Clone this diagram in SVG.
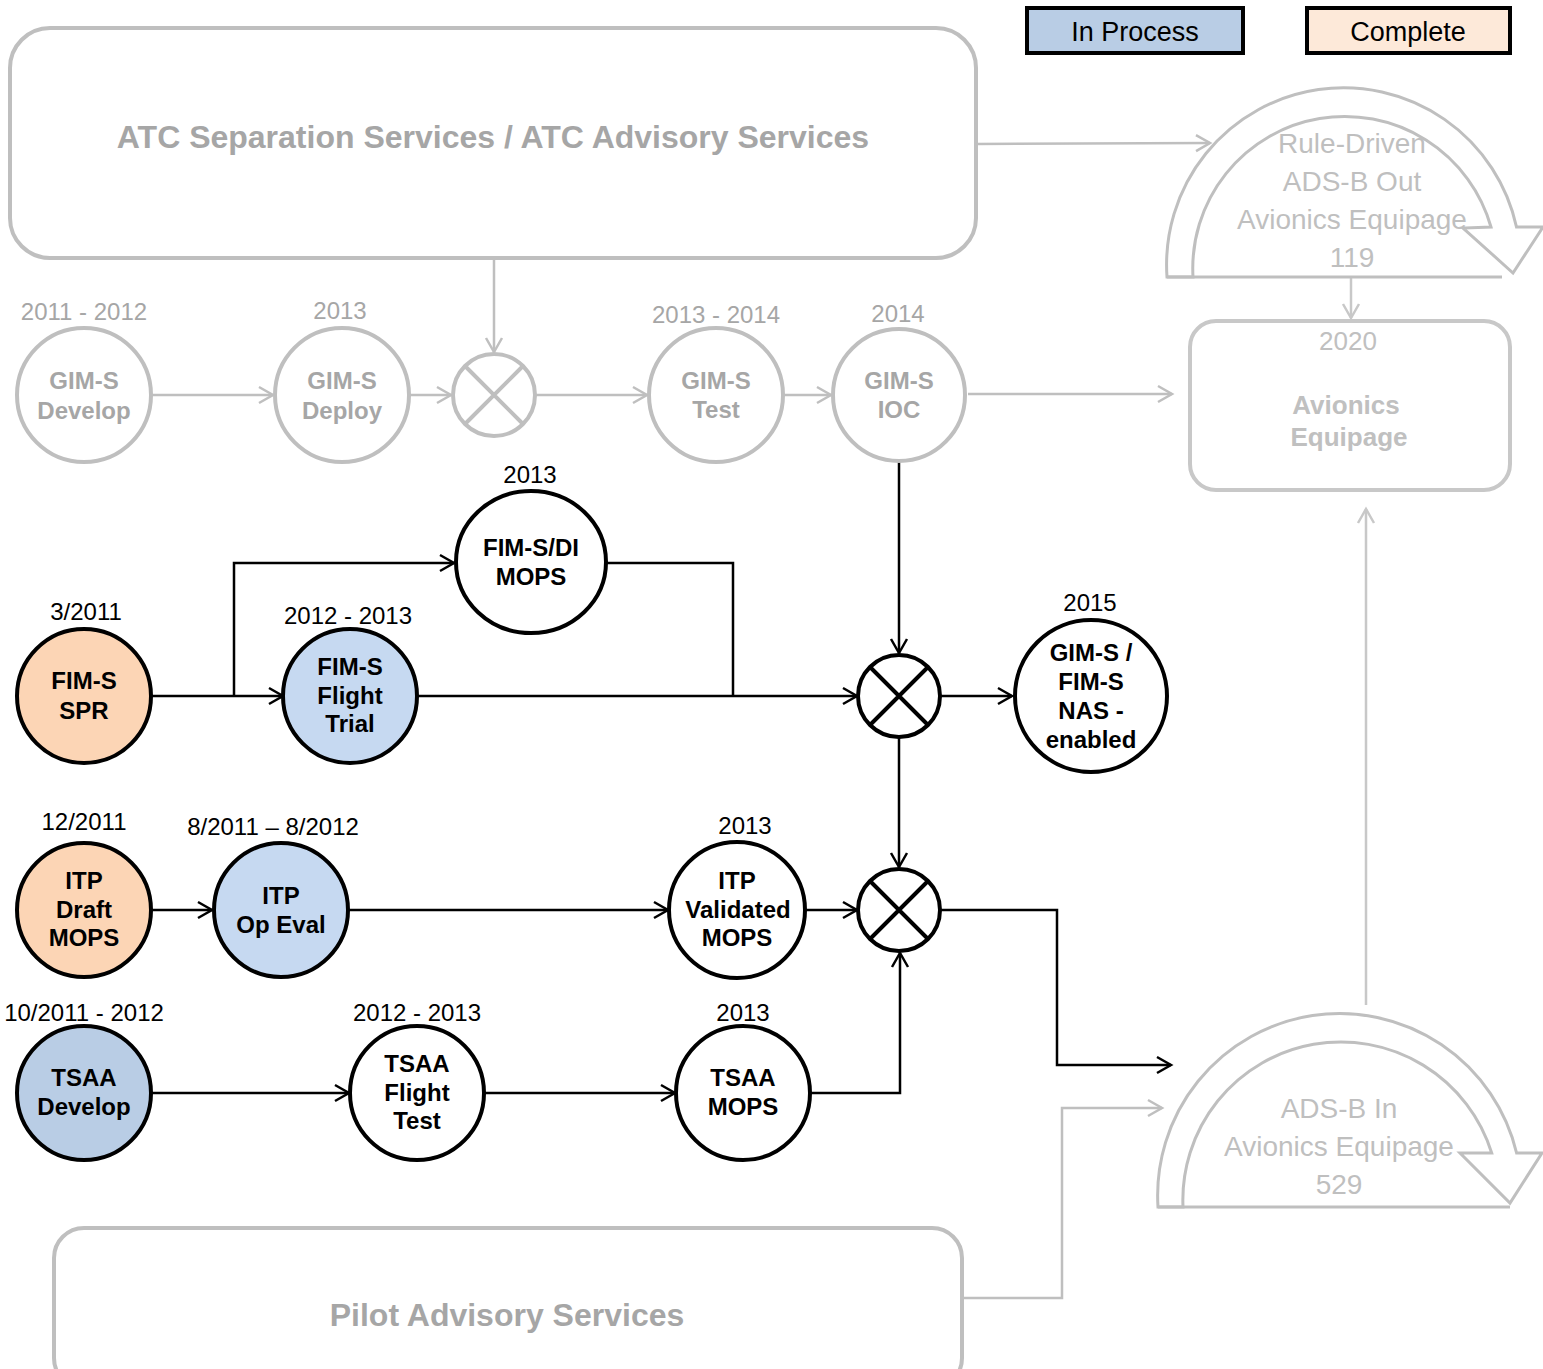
<svg xmlns="http://www.w3.org/2000/svg" width="1543" height="1369" viewBox="0 0 1543 1369">
<defs>
<style>
.gbox{fill:#fff;stroke:#bfbfbf;stroke-width:4}
.gnode{fill:#fff;stroke:#bfbfbf;stroke-width:4}
.bnode{stroke:#000;stroke-width:4}
.white{fill:#fff}
.peach{fill:#fcd5b5}
.blue{fill:#c6d9f1}
.blue2{fill:#b9cde5}
.xline{stroke-width:4;fill:none}
.gc{fill:none;stroke:#bfbfbf;stroke-width:2.5}
.gc2{fill:none;stroke:#c8c8c8;stroke-width:2.5}
.bc{fill:none;stroke:#000;stroke-width:2.5}
.t{font-family:"Liberation Sans",Arial,sans-serif;text-anchor:middle}
.nb{font-size:24px;font-weight:bold;fill:#000}
.nd{font-size:24px;fill:#000}
.gb{font-size:24px;font-weight:bold;fill:#a6a6a6}
.gd{font-size:24px;fill:#a6a6a6}
.big{font-size:32px;font-weight:bold;fill:#a6a6a6}
.arc{fill:#fff;stroke:#bfbfbf;stroke-width:3;stroke-linejoin:miter}
.at{font-size:28px;fill:#bfbfbf}
.eq{font-size:26px;font-weight:bold;fill:#c0c0c0}
.eqd{font-size:26px;fill:#c0c0c0}
.leg{font-size:27px;fill:#000}
</style>
<marker id="ab" markerUnits="userSpaceOnUse" markerWidth="18" markerHeight="20" refX="15" refY="10" orient="auto">
<path d="M1,2 L15,10 L1,18" fill="none" stroke="#000" stroke-width="2.5"/>
</marker>
<marker id="ag" markerUnits="userSpaceOnUse" markerWidth="18" markerHeight="20" refX="15" refY="10" orient="auto">
<path d="M1,2 L15,10 L1,18" fill="none" stroke="#bfbfbf" stroke-width="2.5"/>
</marker>
<marker id="ag2" markerUnits="userSpaceOnUse" markerWidth="18" markerHeight="20" refX="15" refY="10" orient="auto">
<path d="M1,2 L15,10 L1,18" fill="none" stroke="#c8c8c8" stroke-width="2.5"/>
</marker>
</defs>

<rect width="1543" height="1369" fill="#fff"/>

<!-- Legend -->
<g id="legend-in-process">
<rect x="1027" y="8" width="216" height="45" fill="#b9cde5" stroke="#000" stroke-width="4"/>
<text class="t leg" x="1135" y="41">In Process</text>
</g>
<g id="legend-complete">
<rect x="1307" y="8" width="203" height="45" fill="#fde9d9" stroke="#000" stroke-width="4"/>
<text class="t leg" x="1408" y="41">Complete</text>
</g>

<!-- Connectors -->
<g id="connectors">
<!-- gray -->
<path class="gc" d="M976,144 L1210,143" marker-end="url(#ag)"/>
<path class="gc" d="M494,258 L494,352" marker-end="url(#ag)"/>
<path class="gc" d="M152,395 L273,395" marker-end="url(#ag)"/>
<path class="gc" d="M410,395 L451,395" marker-end="url(#ag)"/>
<path class="gc" d="M536,395 L647,395" marker-end="url(#ag)"/>
<path class="gc" d="M784,395 L831,395" marker-end="url(#ag)"/>
<path class="gc" d="M968,394 L1172,394" marker-end="url(#ag)"/>
<path class="gc2" d="M1351,277 L1351,318" marker-end="url(#ag2)"/>
<path class="gc2" d="M1366,1005 L1366,509" marker-end="url(#ag2)"/>
<path class="gc" d="M962,1298 L1062,1298 L1062,1108 L1162,1108" marker-end="url(#ag)"/>
<!-- black -->
<path class="bc" d="M152,696 L283,696" marker-end="url(#ab)"/>
<path class="bc" d="M234,696 L234,563 L454,563" marker-end="url(#ab)"/>
<path class="bc" d="M606,563 L733,563 L733,696"/>
<path class="bc" d="M418,696 L857,696" marker-end="url(#ab)"/>
<path class="bc" d="M899,462 L899,653" marker-end="url(#ab)"/>
<path class="bc" d="M941,696 L1012,696" marker-end="url(#ab)"/>
<path class="bc" d="M899,738 L899,867" marker-end="url(#ab)"/>
<path class="bc" d="M152,910 L212,910" marker-end="url(#ab)"/>
<path class="bc" d="M349,910 L668,910" marker-end="url(#ab)"/>
<path class="bc" d="M806,910 L857,910" marker-end="url(#ab)"/>
<path class="bc" d="M152,1093 L349,1093" marker-end="url(#ab)"/>
<path class="bc" d="M485,1093 L675,1093" marker-end="url(#ab)"/>
<path class="bc" d="M811,1093 L900,1093 L900,953" marker-end="url(#ab)"/>
<path class="bc" d="M941,910 L1057,910 L1057,1065 L1171,1065" marker-end="url(#ab)"/>
</g>

<!-- Top box -->
<g id="atc-services">
<rect class="gbox" x="10" y="28" width="966" height="230" rx="40"/>
<text class="t big" x="493" y="148">ATC Separation Services / ATC Advisory Services</text>
</g>

<!-- Pilot box -->
<g id="pilot-advisory">
<rect class="gbox" x="54" y="1228" width="908" height="160" rx="30"/>
<text class="t big" x="507" y="1326">Pilot Advisory Services</text>
</g>

<!-- Curved arrow: Rule-Driven -->
<g id="rule-driven">
<path class="arc" d="M1167,277 A177,177 0 0 1 1516.5,227 L1543,227 L1513,273 L1463,228 L1491,227 A152,152 0 0 0 1193,277 Z"/>
<line x1="1167" y1="277" x2="1502" y2="277" stroke="#bfbfbf" stroke-width="3"/>
<text class="t at" x="1352" y="153">Rule-Driven</text>
<text class="t at" x="1352" y="191">ADS-B Out</text>
<text class="t at" x="1352" y="229">Avionics  Equipage</text>
<text class="t at" x="1352" y="267">119</text>
</g>

<!-- 2020 box -->
<g id="avionics-2020">
<rect x="1190" y="321" width="320" height="169" rx="26" fill="#fff" stroke="#c8c8c8" stroke-width="4"/>
<text class="t eqd" x="1348" y="350">2020</text>
<text class="t eq" x="1346" y="414">Avionics</text>
<text class="t eq" x="1349" y="446">Equipage</text>
</g>

<!-- Curved arrow: ADS-B In -->
<g id="adsb-in">
<path class="arc" d="M1158,1207 A182,182 0 0 1 1516.6,1153 L1542,1153 L1510,1203 L1460,1153 L1491.7,1153 A158,158 0 0 0 1183,1207 Z"/>
<line x1="1158" y1="1207" x2="1510" y2="1207" stroke="#bfbfbf" stroke-width="3"/>
<text class="t at" x="1339" y="1118">ADS-B In</text>
<text class="t at" x="1339" y="1156">Avionics  Equipage</text>
<text class="t at" x="1339" y="1194">529</text>
</g>

<!-- Gray GIM-S row -->
<g id="gims-develop">
<text class="t gd" x="84" y="320">2011 - 2012</text>
<circle class="gnode" cx="84" cy="395" r="67"/>
<text class="t gb" x="84" y="389">GIM-S</text>
<text class="t gb" x="84" y="419">Develop</text>
</g>
<g id="gims-deploy">
<text class="t gd" x="340" y="319">2013</text>
<circle class="gnode" cx="342" cy="395" r="67"/>
<text class="t gb" x="342" y="389">GIM-S</text>
<text class="t gb" x="342" y="419">Deploy</text>
</g>
<g id="gims-junction">
<circle class="gnode" cx="494" cy="395" r="41"/>
<path d="M465,366 L523,424 M523,366 L465,424" stroke="#bfbfbf" stroke-width="4"/>
</g>
<g id="gims-test">
<text class="t gd" x="716" y="323">2013 - 2014</text>
<circle class="gnode" cx="716" cy="395" r="67"/>
<text class="t gb" x="716" y="389">GIM-S</text>
<text class="t gb" x="716" y="418">Test</text>
</g>
<g id="gims-ioc">
<text class="t gd" x="898" y="322">2014</text>
<circle class="gnode" cx="899" cy="395" r="66"/>
<text class="t gb" x="899" y="389">GIM-S</text>
<text class="t gb" x="899" y="418">IOC</text>
</g>

<!-- FIM-S row -->
<g id="fims-di-mops">
<text class="t nd" x="530" y="483">2013</text>
<ellipse class="bnode white" cx="531" cy="562" rx="75" ry="71"/>
<text class="t nb" x="531" y="556">FIM-S/DI</text>
<text class="t nb" x="531" y="585">MOPS</text>
</g>
<g id="fims-spr">
<text class="t nd" x="86" y="620">3/2011</text>
<circle class="bnode peach" cx="84" cy="696" r="67"/>
<text class="t nb" x="84" y="689">FIM-S</text>
<text class="t nb" x="84" y="719">SPR</text>
</g>
<g id="fims-flight-trial">
<text class="t nd" x="348" y="624">2012 - 2013</text>
<circle class="bnode blue" cx="350" cy="696" r="67"/>
<text class="t nb" x="350" y="675">FIM-S</text>
<text class="t nb" x="350" y="704">Flight</text>
<text class="t nb" x="350" y="732">Trial</text>
</g>
<g id="junction-1">
<circle class="bnode white" cx="899" cy="696" r="41"/>
<path d="M870,667 L928,725 M928,667 L870,725" stroke="#000" stroke-width="4"/>
</g>
<g id="nas-enabled">
<text class="t nd" x="1090" y="611">2015</text>
<circle class="bnode white" cx="1091" cy="696" r="76"/>
<text class="t nb" x="1091" y="661">GIM-S /</text>
<text class="t nb" x="1091" y="690">FIM-S</text>
<text class="t nb" x="1091" y="719">NAS -</text>
<text class="t nb" x="1091" y="748">enabled</text>
</g>

<!-- ITP row -->
<g id="itp-draft">
<text class="t nd" x="84" y="830">12/2011</text>
<circle class="bnode peach" cx="84" cy="910" r="67"/>
<text class="t nb" x="84" y="889">ITP</text>
<text class="t nb" x="84" y="918">Draft</text>
<text class="t nb" x="84" y="946">MOPS</text>
</g>
<g id="itp-op-eval">
<text class="t nd" x="273" y="835">8/2011 – 8/2012</text>
<circle class="bnode blue" cx="281" cy="910" r="67"/>
<text class="t nb" x="281" y="904">ITP</text>
<text class="t nb" x="281" y="933">Op Eval</text>
</g>
<g id="itp-validated">
<text class="t nd" x="745" y="834">2013</text>
<circle class="bnode white" cx="737" cy="910" r="68"/>
<text class="t nb" x="737" y="889">ITP</text>
<text class="t nb" x="738" y="918">Validated</text>
<text class="t nb" x="737" y="946">MOPS</text>
</g>
<g id="junction-2">
<circle class="bnode white" cx="899" cy="910" r="41"/>
<path d="M870,881 L928,939 M928,881 L870,939" stroke="#000" stroke-width="4"/>
</g>

<!-- TSAA row -->
<g id="tsaa-develop">
<text class="t nd" x="84" y="1021">10/2011 - 2012</text>
<circle class="bnode blue2" cx="84" cy="1093" r="67"/>
<text class="t nb" x="84" y="1086">TSAA</text>
<text class="t nb" x="84" y="1115">Develop</text>
</g>
<g id="tsaa-flight-test">
<text class="t nd" x="417" y="1021">2012 - 2013</text>
<circle class="bnode white" cx="417" cy="1093" r="67"/>
<text class="t nb" x="417" y="1072">TSAA</text>
<text class="t nb" x="417" y="1101">Flight</text>
<text class="t nb" x="417" y="1129">Test</text>
</g>
<g id="tsaa-mops">
<text class="t nd" x="743" y="1021">2013</text>
<circle class="bnode white" cx="743" cy="1093" r="67"/>
<text class="t nb" x="743" y="1086">TSAA</text>
<text class="t nb" x="743" y="1115">MOPS</text>
</g>
</svg>
